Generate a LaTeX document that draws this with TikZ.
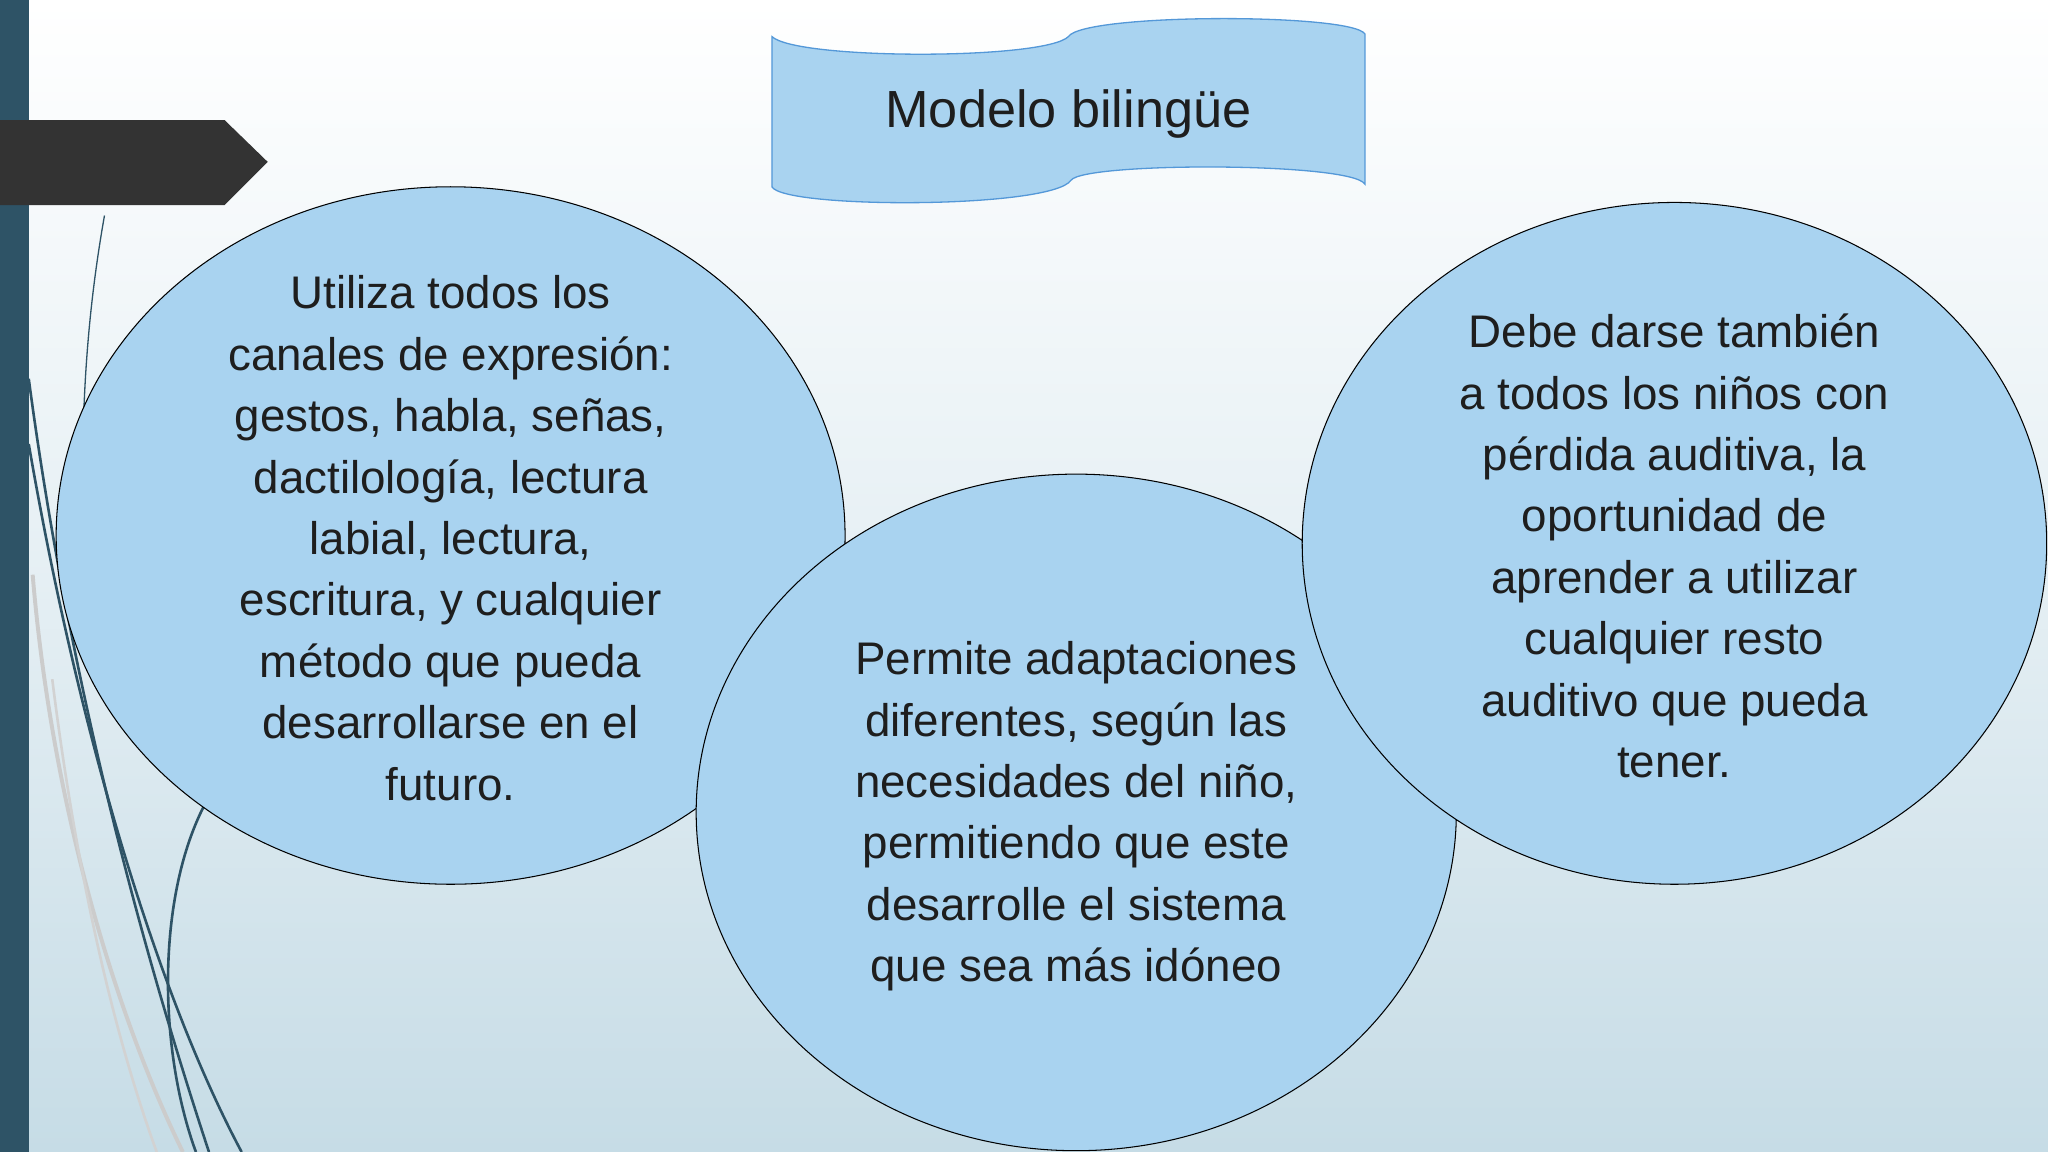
\documentclass[tikz,border=0pt]{standalone}
\usepackage{fontspec}
\setmainfont{Liberation Sans}
\begin{document}
\begin{tikzpicture}[x=1pt,y=-1pt,
  bub/.style={fill=bubfill,draw=black,line width=0.8pt},
  txt/.style={align=center,text=textc,font=\fontsize{35}{47}\selectfont},
  deco/.style={line width=2pt,draw=decoc}]
\definecolor{bubfill}{HTML}{A9D3F0}
\definecolor{textc}{HTML}{1E1E1E}
\definecolor{decoc}{HTML}{2E5366}
\definecolor{bgbot}{HTML}{C6DCE6}
\useasboundingbox (0,0) rectangle (1568,882);
\shade[top color=white,bottom color=bgbot,middle color=white!55!bgbot] (0,0) rectangle (1568,882);
% decorative lines
\draw[deco,line width=1pt] (80,165) .. controls (72,210) and (66,260) .. (64,320);
\draw[deco] (22,290) .. controls (50,500) and (100,700) .. (160,882);
\draw[deco] (22,340) .. controls (60,560) and (120,760) .. (185,882);
\draw[line width=3pt,draw=gray!40] (25,440) .. controls (40,620) and (90,780) .. (140,882);
\draw[line width=2pt,draw=gray!35] (40,520) .. controls (60,680) and (90,800) .. (120,882);
\draw[deco] (160,610) .. controls (120,680) and (120,800) .. (150,882);
\fill[decoc] (0,0) rectangle (22,882);
\fill[black!80] (0,92) -- (172,92) -- (205,124) -- (172,157) -- (0,157) -- cycle;
% banner
\draw[fill=bubfill,draw=cyan!60!blue!70,line width=1pt]
 (591,28) .. controls (610,46) and (800,46) .. (818,28)
 .. controls (830,10) and (1035,10) .. (1045,26) -- (1045,141)
 .. controls (1035,124) and (830,124) .. (820,138)
 .. controls (805,160) and (600,160) .. (591,143) -- cycle;
\node[txt,font=\fontsize{40}{48}\selectfont] (title) at (818,87) {Modelo bilingüe};
% bubbles
\draw[bub] (345,410) ellipse [x radius=302,y radius=267];
\draw[bub] (824,622) ellipse [x radius=291,y radius=259];
\draw[bub] (1282,416) ellipse [x radius=285,y radius=261];
\node[txt] (a) at (345,412) {Utiliza todos los\\canales de expresión:\\gestos, habla, señas,\\dactilología, lectura\\labial, lectura,\\escritura, y cualquier\\método que pueda\\desarrollarse en el\\futuro.};
\node[txt] (b) at (824,625) {Permite adaptaciones\\diferentes, según las\\necesidades del niño,\\permitiendo que este\\desarrolle el sistema\\que sea más idóneo};
\node[txt] (c) at (1282,418) {Debe darse también\\a todos los niños con\\pérdida auditiva, la\\oportunidad de\\aprender a utilizar\\cualquier resto\\auditivo que pueda\\tener.};
\end{tikzpicture}
\end{document}
